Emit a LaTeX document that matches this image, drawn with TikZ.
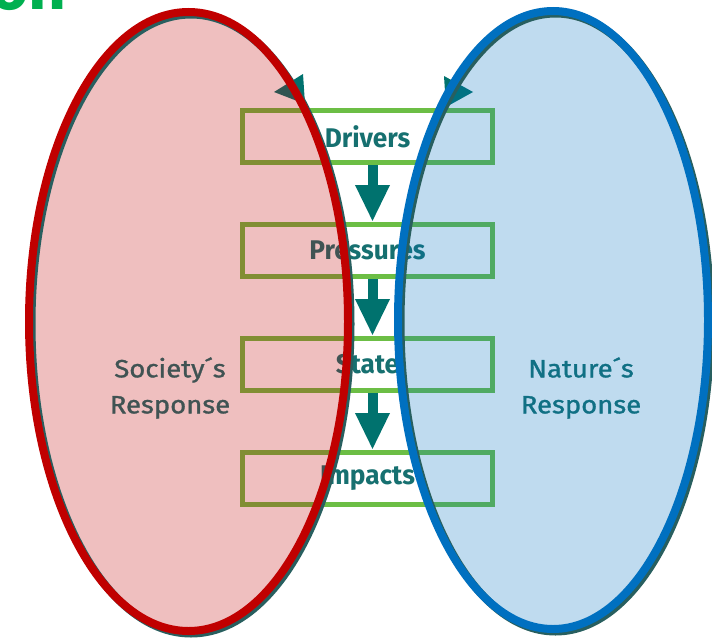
\documentclass[tikz,border=0pt]{standalone}
\usepackage{fontspec}
\setmainfont{Fira Sans}
\newfontfamily\stagefont{Fira Sans}[FakeStretch=0.97]
\newfontfamily\sidefont{Fira Sans}[FakeStretch=1.1, FakeBold=1.2]
\usetikzlibrary{calc,positioning,arrows.meta}

\definecolor{boxgreen}{RGB}{108,190,69}
\definecolor{flowteal}{RGB}{0,114,110}
\definecolor{labelteal}{RGB}{22,112,112}
\definecolor{societyred}{RGB}{192,0,0}
\definecolor{natureblue}{RGB}{0,112,192}
\definecolor{rimteal}{RGB}{40,95,95}
\definecolor{titlegreen}{RGB}{0,176,80}

% tinted response ellipse with its dark rim
\def\responseoval[#1](#2)(#3:#4){%
	\fill[#1, opacity=0.25] (#2) ellipse (#3 and #4);
	\draw[rimteal, line width=8pt] ($(#2)+(2.5,2.5)$) ellipse (#3 and #4);
	\draw[#1, line width=8pt] (#2) ellipse (#3 and #4);}

\tikzset{
	stagebox/.style={draw=boxgreen, line width=5pt, minimum width=250pt, minimum height=52pt,
		text=labelteal, font=\stagefont\bfseries\fontsize{27}{30}\selectfont},
	flowarrow/.style={flowteal, line width=10pt, -{Triangle[width=32pt,length=37pt]}},
	responselabel/.style={text=labelteal, align=center,
		font=\sidefont\fontsize{25}{36}\selectfont}
}

\begin{document}
\begin{tikzpicture}[x=1pt, y=-1pt]
		%%%%% START %%%%%
		
		\fill[white] (0, 0) rectangle (712, 640);
		\useasboundingbox (0, 0) rectangle (712, 640);
		\clip (0, 0) rectangle (712, 640);
		
		\node[anchor=base east, text=titlegreen, font=\bfseries\fontsize{66}{70}\selectfont, inner sep=0pt] (title) at (67, 9) {on};
		
		% the four stages
		\node[stagebox] (drivers) at (367.5, 136.5) {Drivers};
		\node[stagebox, below=57pt of drivers] (pressures) {Pressures};
		\node[stagebox, below=57pt of pressures] (state) {State};
		\node[stagebox, below=57pt of state] (impacts) {Impacts};
		
		\draw[flowarrow] ([xshift=5pt]drivers.south) -- ([xshift=5pt]pressures.north);
		\draw[flowarrow] ([xshift=5pt]pressures.south) -- ([xshift=5pt]state.north);
		\draw[flowarrow] ([xshift=5pt]state.south) -- ([xshift=5pt]impacts.north);
		
		% heads above the drivers box
		\fill[flowteal] (274, 92) -- (303, 74) -- (305, 104) -- cycle;
		\fill[flowteal] (473, 92) -- (444, 76) -- (446, 107) -- cycle;
		
		\node[responselabel] (society) at (170, 388) {Society´s\\Response};
		\node[responselabel] (nature) at (581, 388) {Nature´s\\Response};
		
		\responseoval[societyred](188.5, 321.5)(159.5pt:309.5pt)
		\responseoval[natureblue](553, 320)(155pt:309pt)
		
		%%%%% END %%%%%
	\end{tikzpicture}
\end{document}
